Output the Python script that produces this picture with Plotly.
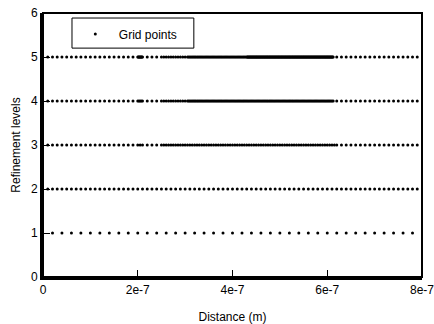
import numpy as np
import plotly.graph_objects as go

# Grid definition per refinement level: (first point, last point, spacing) in metres
level_numbers = [1, 2, 3, 4, 5]

level1_segments = [(2e-8, 7.8e-7, 2e-8)]
level2_segments = [(1e-8, 7.9e-7, 1e-8)]
level3_segments = [
    (1e-8, 1.9e-7, 1e-8),
    (2.0e-7, 2.1e-7, 5e-9),
    (2.2e-7, 2.5e-7, 1e-8),
    (2.55e-7, 6.15e-7, 5e-9),
    (6.2e-7, 7.9e-7, 1e-8),
]
level4_segments = [
    (1e-8, 1.9e-7, 1e-8),
    (2.0e-7, 2.1e-7, 2.5e-9),
    (2.2e-7, 2.5e-7, 1e-8),
    (2.55e-7, 3.05e-7, 5e-9),
    (3.075e-7, 6.125e-7, 2.5e-9),
    (6.2e-7, 7.9e-7, 1e-8),
]
level5_segments = [
    (1e-8, 1.9e-7, 1e-8),
    (2.0e-7, 2.1e-7, 1.25e-9),
    (2.2e-7, 2.5e-7, 1e-8),
    (2.55e-7, 3.05e-7, 5e-9),
    (3.075e-7, 4.3e-7, 2.5e-9),
    (4.3125e-7, 6.125e-7, 1.25e-9),
    (6.2e-7, 7.9e-7, 1e-8),
]
all_segments = [level1_segments, level2_segments, level3_segments,
                level4_segments, level5_segments]

x_tick_values = [0, 2e-7, 4e-7, 6e-7, 8e-7]
x_tick_labels = ["0", "2e-7", "4e-7", "6e-7", "8e-7"]
y_tick_values = [0, 1, 2, 3, 4, 5, 6]


def segment_points(start, stop, step):
    count = int(round((stop - start) / step)) + 1
    return np.linspace(start, stop, count)


xs, ys = [], []
for level, segments in zip(level_numbers, all_segments):
    for start, stop, step in segments:
        pts = segment_points(start, stop, step)
        xs.extend(pts.tolist())
        ys.extend([level] * len(pts))

font_family = "Liberation Sans, Arial, sans-serif"

fig = go.Figure()
fig.add_trace(go.Scatter(
    x=xs, y=ys, mode="markers", name="Grid points",
    marker=dict(symbol="circle", size=3, color="black", line=dict(width=0)),
    showlegend=True,
))

fig.update_layout(
    width=434, height=324,
    margin=dict(l=43, r=12, t=13, b=47),
    paper_bgcolor="white", plot_bgcolor="white",
    font=dict(family=font_family, size=12, color="black"),
    showlegend=True,
    legend=dict(
        x=0.076, y=0.975, xanchor="left", yanchor="top",
        borderwidth=0, bgcolor="rgba(0,0,0,0)",
        font=dict(size=12), itemsizing="trace", itemwidth=37,
    ),
    xaxis=dict(
        range=[0, 8e-7], tickvals=x_tick_values, ticktext=x_tick_labels,
        ticks="inside", ticklen=7, tickwidth=1, tickcolor="black",
        showline=True, linewidth=3, linecolor="black",
        showgrid=False, zeroline=False, automargin=False,
        ticklabeloverflow="allow",
        title=dict(text="Distance (m)", standoff=17, font=dict(size=12)),
    ),
    yaxis=dict(
        range=[0, 6], tickvals=y_tick_values,
        ticks="inside", ticklen=7, tickwidth=1, tickcolor="black",
        showline=True, linewidth=3, linecolor="black",
        showgrid=False, zeroline=False, automargin=False,
        title=dict(text="Refinement levels", standoff=8, font=dict(size=12)),
    ),
    shapes=[
        # plot frame
        dict(type="rect", xref="paper", yref="paper", x0=0, y0=0, x1=1, y1=1,
             line=dict(color="black", width=2), layer="above"),
        # legend box
        dict(type="rect", xref="paper", yref="paper",
             x0=0.0765, x1=0.398, y0=0.867, y1=0.981,
             line=dict(color="black", width=1), fillcolor="white", layer="below"),
    ],
)

fig.write_html("out.html")
